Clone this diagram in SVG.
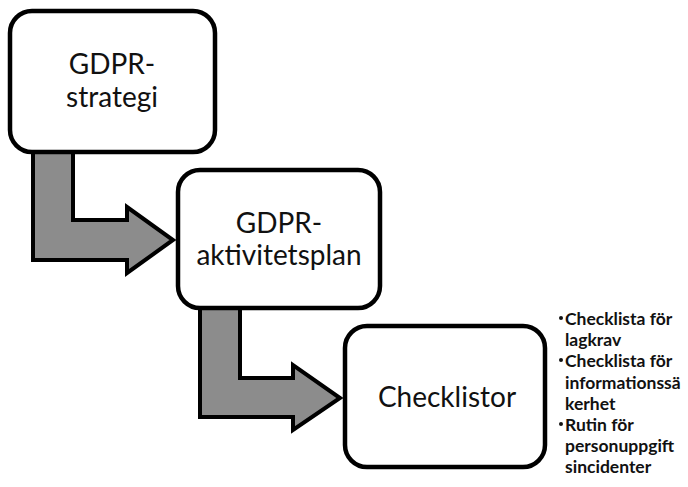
<svg xmlns="http://www.w3.org/2000/svg" width="688" height="487" viewBox="0 0 688 487">
<style>
.box{fill:#fff;stroke:#000;stroke-width:4.5}
.arr{fill:#8c8c8c;stroke:#000;stroke-width:4;stroke-linejoin:miter}
.t{font-family:Lato,"Liberation Sans",sans-serif;font-size:28px;fill:#111;text-anchor:middle}
.b{font-family:Lato,"Liberation Sans",sans-serif;font-size:17.5px;font-weight:bold;fill:#111}
.dot{fill:#111}
</style>
<rect width="688" height="487" fill="#fff"/>
<g id="connectors">
<polygon class="arr" points="33,150 73,150 73,220 127,220 127,207 173,240 127,273 127,260 33,260"/>
<polygon class="arr" points="200,306 240,306 240,378 293,378 293,365 340,398 293,430 293,417 200,417"/>
</g>
<g id="node1">
<rect class="box" x="10" y="11" width="205" height="141" rx="22"/>
<text class="t" x="112" y="74">GDPR-</text>
<text class="t" x="112" y="107">strategi</text>
</g>
<g id="node2">
<rect class="box" x="178" y="170" width="202" height="138" rx="22"/>
<text class="t" x="279" y="233">GDPR-</text>
<text class="t" x="279" y="265">aktivitetsplan</text>
</g>
<g id="node3">
<rect class="box" x="345" y="326" width="200" height="141" rx="22"/>
<text class="t" x="447" y="407">Checklistor</text>
</g>
<g id="notes" class="b">
<circle class="dot" cx="561" cy="318" r="2"/>
<circle class="dot" cx="561" cy="360" r="2"/>
<circle class="dot" cx="561" cy="424" r="2"/>
<text x="565" y="325">Checklista för</text>
<text x="565" y="346">lagkrav</text>
<text x="565" y="367">Checklista för</text>
<text x="565" y="389">informationssä</text>
<text x="565" y="410">kerhet</text>
<text x="565" y="431">Rutin för</text>
<text x="565" y="452">personuppgift</text>
<text x="565" y="473">sincidenter</text>
</g>
</svg>
